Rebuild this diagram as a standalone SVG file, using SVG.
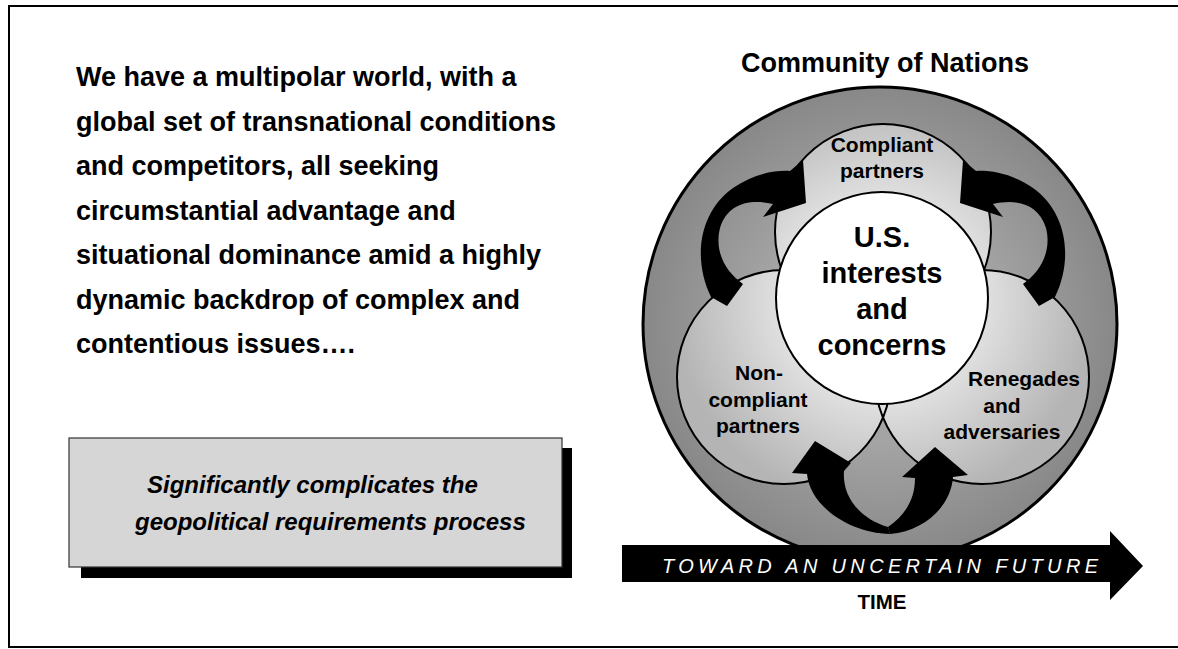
<svg xmlns="http://www.w3.org/2000/svg" width="1178" height="649" viewBox="0 0 1178 649">
<defs>
<style>
.t{font-family:"Liberation Sans",Arial,sans-serif;font-weight:bold;fill:#000}
.para{font-size:27px}
.petal{font-size:21px;text-anchor:middle}
.core{font-size:29px;text-anchor:middle}
.box{font-size:24px;font-style:italic}
.pc{stroke:#000;stroke-width:2}
.arrow{fill:#000;stroke:none}
</style>
<radialGradient id="ringG" gradientUnits="userSpaceOnUse" cx="880" cy="324" r="237">
<stop offset="0.5" stop-color="#a4a4a4"/>
<stop offset="1" stop-color="#888888"/>
</radialGradient>
<radialGradient id="petalG" gradientUnits="userSpaceOnUse" cx="882" cy="300" r="210">
<stop offset="0.35" stop-color="#ececec"/>
<stop offset="1" stop-color="#b4b4b4"/>
</radialGradient>
</defs>
<rect width="1178" height="649" fill="#fff"/>
<path d="M1178,6 H9 V647 H1178" fill="none" stroke="#000" stroke-width="2"/>

<g id="statement">
<text class="t para" x="76" y="86">We have a multipolar world, with a</text>
<text class="t para" x="76" y="130.5">global set of transnational conditions</text>
<text class="t para" x="76" y="175">and competitors, all seeking</text>
<text class="t para" x="76" y="219.5">circumstantial advantage and</text>
<text class="t para" x="76" y="264">situational dominance amid a highly</text>
<text class="t para" x="76" y="308.5">dynamic backdrop of complex and</text>
<text class="t para" x="76" y="353">contentious issues….</text>
</g>

<g id="conclusion-box">
<rect x="81" y="448" width="491" height="130" fill="#000"/>
<rect x="69" y="438" width="493" height="129" fill="#d6d6d6" stroke="#333" stroke-width="1.2"/>
<text class="t box" x="147" y="493">Significantly complicates the</text>
<text class="t box" x="135" y="530">geopolitical requirements process</text>
</g>

<g id="title">
<text class="t" x="885" y="72" font-size="27" text-anchor="middle">Community of Nations</text>
</g>

<g id="community-of-nations">
<circle cx="880" cy="324" r="237" fill="url(#ringG)" stroke="#000" stroke-width="3"/>
</g>

<g id="petals">
<circle cx="784" cy="377" r="107" fill="url(#petalG)"/>
<circle cx="982" cy="377" r="107" fill="url(#petalG)"/>
<circle cx="883" cy="232" r="108" fill="url(#petalG)"/>
<circle class="pc" cx="784" cy="377" r="107" fill="none"/>
<circle class="pc" cx="982" cy="377" r="107" fill="none"/>
<circle class="pc" cx="883" cy="232" r="108" fill="none"/>
</g>

<g id="compliant-partners">
<text class="t petal" x="882" y="152">Compliant</text>
<text class="t petal" x="882" y="178">partners</text>
</g>

<g id="non-compliant-partners">
<text class="t petal" x="759" y="380">Non-</text>
<text class="t petal" x="758" y="407">compliant</text>
<text class="t petal" x="758" y="433">partners</text>
</g>

<g id="renegades-and-adversaries">
<text class="t petal" x="1024" y="386">Renegades</text>
<text class="t petal" x="1002" y="413">and</text>
<text class="t petal" x="1002" y="439">adversaries</text>
</g>

<g id="us-interests">
<circle cx="882" cy="298" r="106" fill="#fff" stroke="#000" stroke-width="2"/>
<text class="t core" x="882" y="247">U.S.</text>
<text class="t core" x="882" y="283">interests</text>
<text class="t core" x="882" y="319">and</text>
<text class="t core" x="882" y="355">concerns</text>
</g>

<g id="connectors">
<path id="arrow-ul" class="arrow" d="M727,306 L711,297 C693,260 698,213 733,188 C753,174 775,170 790,171 L803,160 L806,203 L763,217 L773,204 C750,199 728,203 720,228 C714,252 726,272 743,284 Z"/>
<use href="#arrow-ul" transform="translate(1766,0) scale(-1,1)"/>
<path class="arrow" d="M815,441 L851,463 L844,471 C842,495 858,518 888,527 L890,534 C849,533 810,506 807,474 L792,473 Z"/>
<path class="arrow" d="M935,447 L968,475 L953,477 C951,506 925,531 890,534 L888,527 C905,515 915,500 915,478 L902,477 Z"/>
</g>

<g id="time-arrow">
<path d="M622,545 H1110 V531 L1143,566 L1110,600 V582 H622 Z" fill="#000"/>
<text x="662" y="573" font-family="'Liberation Sans',Arial,sans-serif" font-size="20" font-style="italic" fill="#fff" textLength="436" lengthAdjust="spacing">TOWARD AN UNCERTAIN FUTURE</text>
</g>

<g id="time-label">
<text class="t" x="882" y="609" font-size="20.5" text-anchor="middle">TIME</text>
</g>
</svg>
